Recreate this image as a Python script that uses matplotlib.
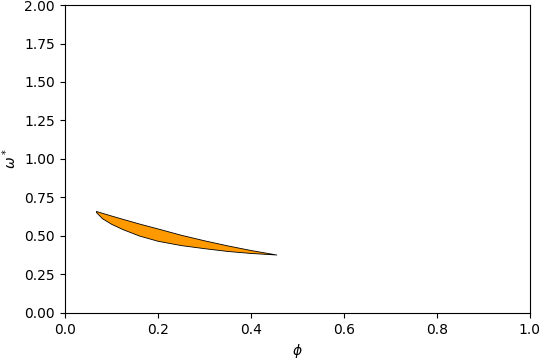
import matplotlib
matplotlib.use('Agg')
import matplotlib.pyplot as plt

# region boundaries
phi = [0.067, 0.08, 0.10, 0.125, 0.16, 0.20, 0.25, 0.30, 0.35, 0.40, 0.455]
omega_upper = [0.662, 0.650, 0.632, 0.610, 0.580, 0.548, 0.507, 0.471, 0.438, 0.408, 0.379]
omega_lower = [0.655, 0.615, 0.578, 0.543, 0.502, 0.468, 0.440, 0.420, 0.402, 0.389, 0.379]

fig = plt.figure(figsize=(5.4, 3.6), dpi=100)
ax = fig.add_axes([0.12, 0.131, 0.861, 0.855])

ax.fill_between(phi, omega_lower, omega_upper, facecolor='#ff9900',
                edgecolor='black', linewidth=0.6)

ax.set_xlim(0, 1)
ax.set_ylim(0, 2)
ax.set_xlabel(r'$\phi$')
ax.set_ylabel(r'$\omega^*$')

fig.savefig('out.png', dpi=100)
